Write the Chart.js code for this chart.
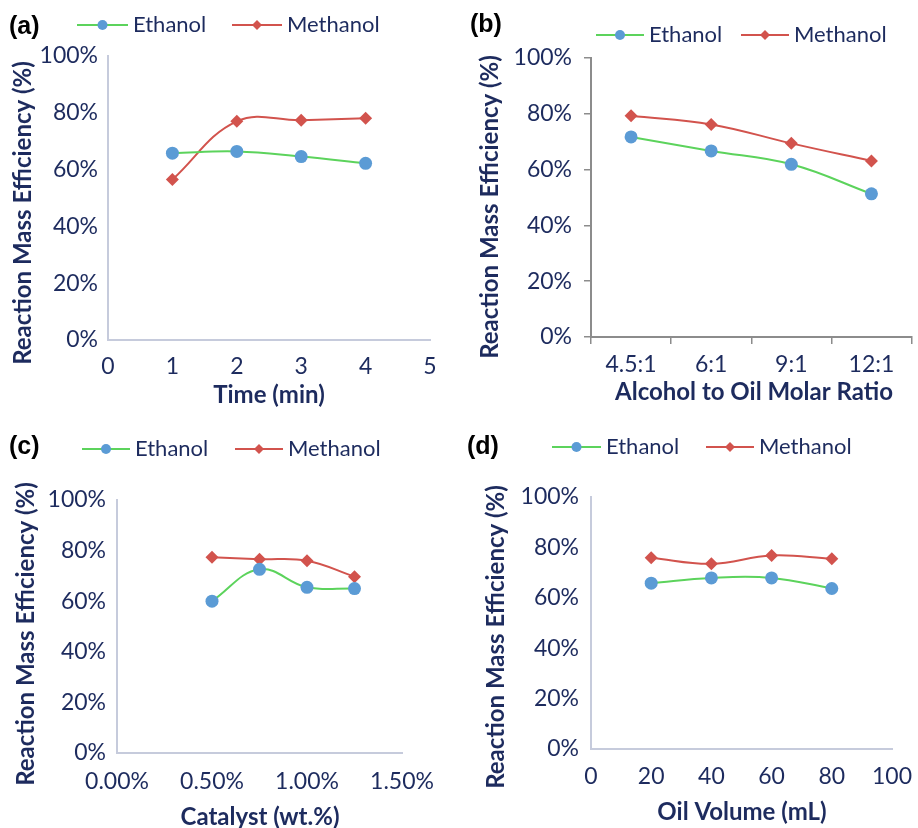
<!DOCTYPE html>
<html>
<head>
<meta charset="utf-8">
<title>Reaction Mass Efficiency</title>
<script src="https://cdn.jsdelivr.net/npm/chart.js@4.4.0/dist/chart.umd.min.js"></script>
<style>
  body { margin: 0; background: #fff; }
  #wrap { position: relative; width: 918px; height: 828px; }
  .panel { position: absolute; width: 459px; height: 414px; }
</style>
</head>
<body>
<div id="wrap">
  <div class="panel" style="left:0;top:0"><canvas id="chartA" width="459" height="414"></canvas></div>
  <div class="panel" style="left:459px;top:0"><canvas id="chartB" width="459" height="414"></canvas></div>
  <div class="panel" style="left:0;top:414px"><canvas id="chartC" width="459" height="414"></canvas></div>
  <div class="panel" style="left:459px;top:414px"><canvas id="chartD" width="459" height="414"></canvas></div>
</div>
<script>
// (a) time
const timeMin = [1, 2, 3, 4];
const ethanolTime = [65.8, 66.4, 64.6, 62.2];
const methanolTime = [56.5, 77.0, 77.4, 78.1];

// (b) alcohol to oil molar ratio
const ratioLabels = ['4.5:1', '6:1', '9:1', '12:1'];
const ethanolRatio = [71.7, 66.7, 61.9, 51.3];
const methanolRatio = [79.3, 76.2, 69.4, 63.1];

// (c) catalyst wt.%
const catalystWt = [0.5, 0.75, 1.0, 1.25];
const ethanolCatalyst = [60.0, 72.6, 65.5, 65.0];
const methanolCatalyst = [77.4, 76.6, 76.0, 69.7];

// (d) oil volume mL
const oilVolume = [20, 40, 60, 80];
const ethanolVolume = [65.8, 67.9, 67.9, 63.7];
const methanolVolume = [75.9, 73.5, 76.8, 75.5];

const seriesNames = ['Ethanol', 'Methanol'];
const yTitleText = 'Reaction Mass Efficiency (%)';

const NAVY = '#1d2b5e';
const GREEN = '#5cd35c';
const BLUE = '#5b9bd5';
const RED = '#d2534d';

function toPoints(xs, ys) {
    return xs.map((x, i) => ({ x: x, y: ys[i] }));
}

// draws the panel letter, the line+marker legend and the axis titles
const panelText = {
    id: 'panelText',
    afterDraw(chart, args, opts) {
        const ctx = chart.ctx;
        ctx.save();
        ctx.textBaseline = 'middle';
        ctx.textAlign = 'left';
        ctx.fillStyle = '#000';
        ctx.font = 'bold 25px "Liberation Sans", Arial, sans-serif';
        ctx.fillText(opts.label, opts.labelX, opts.labelY);

        opts.legend.forEach((item, i) => {
            const ds = chart.data.datasets[i];
            const y = opts.legendY;
            ctx.strokeStyle = ds.borderColor;
            ctx.lineWidth = 2;
            ctx.beginPath();
            ctx.moveTo(item.x0, y);
            ctx.lineTo(item.x1, y);
            ctx.stroke();
            ctx.fillStyle = ds.pointBackgroundColor;
            Chart.helpers.drawPoint(ctx, { pointStyle: ds.pointStyle, radius: item.r, borderWidth: 0, rotation: 0 }, (item.x0 + item.x1) / 2, y);
            ctx.fillStyle = NAVY;
            ctx.font = '22px Lato, sans-serif';
            ctx.textAlign = 'left';
            ctx.fillText(ds.label, item.tx, y);
        });

        ctx.fillStyle = NAVY;
        ctx.font = 'bold 24px Lato, sans-serif';
        ctx.textAlign = 'center';
        ctx.fillText(opts.xTitle, opts.xTitleX, opts.xTitleY);

        ctx.translate(opts.yTitleX, opts.yTitleY);
        ctx.rotate(-Math.PI / 2);
        ctx.fillText(yTitleText, 0, 0);
        ctx.restore();
    }
};

function lineSets(ethData, methData) {
    return [
        {
            label: seriesNames[0],
            data: ethData,
            borderColor: GREEN,
            borderWidth: 2,
            pointStyle: 'circle',
            pointRadius: 6.5,
            pointBackgroundColor: BLUE,
            pointBorderWidth: 0,
            tension: 0.4
        },
        {
            label: seriesNames[1],
            data: methData,
            borderColor: RED,
            borderWidth: 2,
            pointStyle: 'rectRot',
            pointRadius: 6.5,
            pointBackgroundColor: RED,
            pointBorderWidth: 0,
            tension: 0.4
        }
    ];
}

function makePanel(id, cfg) {
    const axisColor = cfg.axisColor || '#c6cbdc';
    const withTicks = !!cfg.tickMarks;
    // without tick marks the hidden tick length carries the label gap,
    // so the ticks' own padding stays 0 and does not eat into the right margin
    const xGrid = withTicks
        ? { display: true, drawOnChartArea: false, drawTicks: true, tickLength: 7, color: axisColor, lineWidth: 1.5, offset: !!cfg.x.offset }
        : { display: false, drawTicks: true, tickLength: cfg.xPad };
    const yGrid = withTicks
        ? { display: true, drawOnChartArea: false, drawTicks: true, tickLength: 7, color: axisColor, lineWidth: 1.5 }
        : { display: false, drawTicks: true, tickLength: cfg.yPad };

    const xScale = {
        type: cfg.x.type,
        position: 'bottom',
        offset: !!cfg.x.offset,
        grid: xGrid,
        border: { display: true, color: axisColor, width: 2 },
        ticks: Object.assign({
            color: NAVY,
            font: { family: 'Lato', size: 23 },
            padding: withTicks ? cfg.xPad : 0,
            maxRotation: 0,
            autoSkip: false
        }, cfg.x.ticks || {}),
        afterFit: (scale) => { scale.height = 414 - cfg.bottom; }
    };
    if (cfg.x.type === 'linear') {
        xScale.min = cfg.x.min;
        xScale.max = cfg.x.max;
    }

    new Chart(document.getElementById(id), {
        type: 'line',
        data: { labels: cfg.labels, datasets: lineSets(cfg.eth, cfg.meth) },
        options: {
            responsive: false,
            animation: false,
            layout: { padding: { left: 0, top: cfg.top, right: 459 - cfg.right, bottom: 0 } },
            plugins: {
                legend: { display: false },
                tooltip: { enabled: false },
                panelText: cfg.text
            },
            scales: {
                x: xScale,
                y: {
                    min: 0,
                    max: 100,
                    grid: yGrid,
                    border: { display: true, color: axisColor, width: 2 },
                    ticks: {
                        stepSize: 20,
                        color: NAVY,
                        font: { family: 'Lato', size: 23 },
                        padding: withTicks ? cfg.yPad : 0,
                        callback: (v) => v + '%'
                    },
                    afterFit: (scale) => { scale.width = cfg.left; }
                }
            }
        },
        plugins: [panelText]
    });
}

makePanel('chartA', {
    eth: toPoints(timeMin, ethanolTime),
    meth: toPoints(timeMin, methanolTime),
    left: 108, top: 56, right: 430, bottom: 340,
    xPad: 13, yPad: 10,
    x: { type: 'linear', min: 0, max: 5, ticks: { stepSize: 1 } },
    text: {
        label: '(a)', labelX: 9, labelY: 27,
        legendY: 25,
        legend: [{ x0: 77, x1: 128, r: 5, tx: 133 }, { x0: 232, x1: 282, r: 5, tx: 287 }],
        xTitle: 'Time (min)', xTitleX: 269, xTitleY: 395,
        yTitleX: 23, yTitleY: 213
    }
});

makePanel('chartB', {
    labels: ratioLabels,
    eth: ethanolRatio,
    meth: methanolRatio,
    left: 132, top: 58, right: 454, bottom: 337,
    xPad: 7, yPad: 12,
    tickMarks: true,
    axisColor: '#8c8c8c',
    x: { type: 'category', offset: true },
    text: {
        label: '(b)', labelX: 11, labelY: 25,
        legendY: 35,
        legend: [{ x0: 137, x1: 185, r: 5, tx: 190 }, { x0: 282, x1: 330, r: 5, tx: 335 }],
        xTitle: 'Alcohol to Oil Molar Ratio', xTitleX: 295, xTitleY: 392,
        yTitleX: 31, yTitleY: 207
    }
});

makePanel('chartC', {
    eth: toPoints(catalystWt, ethanolCatalyst),
    meth: toPoints(catalystWt, methanolCatalyst),
    left: 117, top: 86, right: 402, bottom: 339,
    xPad: 15, yPad: 11,
    x: { type: 'linear', min: 0, max: 1.5, ticks: { stepSize: 0.5, callback: (v) => v.toFixed(2) + '%' } },
    text: {
        label: '(c)', labelX: 9, labelY: 33,
        legendY: 35,
        legend: [{ x0: 82, x1: 130, r: 5, tx: 135 }, { x0: 235, x1: 283, r: 5, tx: 288 }],
        xTitle: 'Catalyst (wt.%)', xTitleX: 260, xTitleY: 403,
        yTitleX: 26, yTitleY: 220
    }
});

makePanel('chartD', {
    eth: toPoints(oilVolume, ethanolVolume),
    meth: toPoints(oilVolume, methanolVolume),
    left: 132, top: 83, right: 433, bottom: 335,
    xPad: 14, yPad: 12,
    x: { type: 'linear', min: 0, max: 100, ticks: { stepSize: 20 } },
    text: {
        label: '(d)', labelX: 8, labelY: 33,
        legendY: 33,
        legend: [{ x0: 93, x1: 142, r: 5, tx: 147 }, { x0: 247, x1: 295, r: 5, tx: 300 }],
        xTitle: 'Oil Volume (mL)', xTitleX: 283, xTitleY: 398,
        yTitleX: 37, yTitleY: 223
    }
});
</script>
</body>
</html>
